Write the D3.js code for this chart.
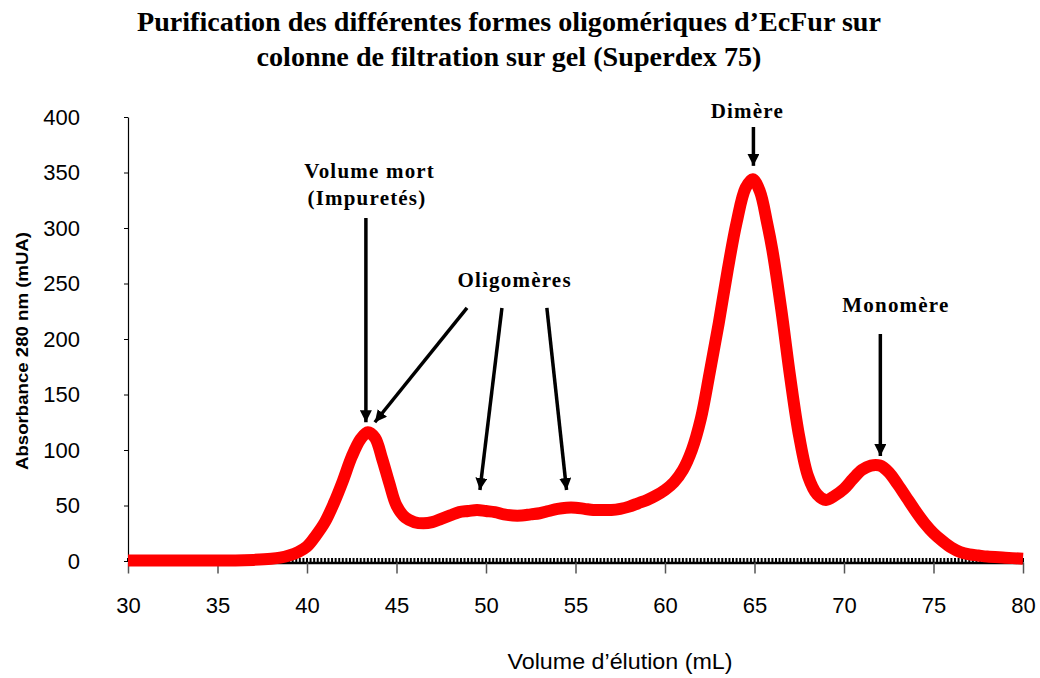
<!DOCTYPE html>
<html>
<head>
<meta charset="utf-8">
<script src="https://cdn.jsdelivr.net/npm/d3@7"></script>
<style>
  html, body { margin: 0; padding: 0; background: #fff; }
  svg { display: block; }
</style>
</head>
<body>
<svg id="chart" width="1040" height="678"></svg>
<script>
// ---- Data ----
const volumes = [30, 32, 34, 36, 37, 38, 38.5, 39, 39.5, 40, 40.5, 41, 41.5, 42, 42.5, 43, 43.4, 43.8, 44.2, 44.6, 45, 45.5, 46, 46.5, 47, 47.5, 48, 48.5, 49, 49.5, 50, 50.5, 51, 51.5, 52, 52.5, 53, 53.5, 54, 54.5, 55, 55.5, 56, 56.5, 57, 57.5, 58, 58.5, 59, 59.5, 60, 60.5, 61, 61.5, 62, 62.5, 63, 63.5, 64, 64.5, 64.9, 65.3, 65.7, 66, 66.5, 67, 67.5, 68, 68.5, 69, 69.5, 70, 70.5, 71, 71.5, 72, 72.5, 73, 73.5, 74, 74.5, 75, 75.5, 76, 76.5, 77, 77.5, 78, 79, 80];
const absorbance = [0.5, 0.5, 0.5, 0.5, 1, 2, 3, 5, 8, 13, 23, 35, 52, 72, 94, 110, 116, 111, 92, 70, 50, 39, 35, 34, 35, 38, 41, 44, 45, 46, 45, 44, 42, 41, 41, 42, 43, 45, 47, 48, 48, 47, 46, 46, 46, 47, 49, 52, 55, 59, 64, 71, 82, 100, 128, 170, 214, 262, 305, 336, 344, 333, 305, 280, 226, 165, 112, 76, 60, 55, 59, 65, 74, 82, 86, 86, 80, 69, 57, 45, 34, 25, 18, 12, 8, 6, 5, 4, 3, 2];

const xTicks = [30, 35, 40, 45, 50, 55, 60, 65, 70, 75, 80];
const yTicks = [0, 50, 100, 150, 200, 250, 300, 350, 400];

const titleLines = ["Purification des différentes formes oligomériques d’EcFur sur",
                    "colonne de filtration sur gel (Superdex 75)"];
const xTitle = "Volume d’élution (mL)";
const yTitle = "Absorbance 280 nm (mUA)";

// annotation labels [text, x(mL), y(mUA)]
const labelTexts = ["Volume mort", "(Impuretés)", "Oligomères", "Dimère", "Monomère"];
const labelX = [43.5, 43.35, 51.6, 64.6, 72.9];
const labelY = [345, 321, 247, 399, 224];
// arrows: from (x1,y1) to tip (x2,y2) in data units
const arrowX1 = [43.29, 48.94, 50.89, 53.4, 64.94, 72.03];
const arrowY1 = [309, 228, 228, 228, 391, 204.5];
const arrowX2 = [43.29, 43.79, 49.66, 54.5, 64.94, 72.03];
const arrowY2 = [125, 125, 64, 64, 356, 94.6];

// ---- Drawing ----
const svg = d3.select("#chart");
const x = d3.scaleLinear().domain([30, 80]).range([128, 1023]);
const y = d3.scaleLinear().domain([0, 400]).range([561, 117]);

// Title
svg.append("g").selectAll("text").data(titleLines).join("text")
  .attr("x", 509)
  .attr("y", (d, i) => 31 + i * 35)
  .attr("text-anchor", "middle")
  .attr("font-family", "'Liberation Serif', 'Times New Roman', serif")
  .attr("font-weight", "bold")
  .attr("font-size", 28)
  .attr("textLength", (d, i) => i === 0 ? 744 : 505)
  .attr("lengthAdjust", "spacingAndGlyphs")
  .attr("fill", "#000")
  .text(d => d);

// Minor ticks along x axis
const minor = d3.range(30, 80.001, 0.2);
svg.append("g").selectAll("line").data(minor).join("line")
  .attr("x1", d => x(d)).attr("x2", d => x(d))
  .attr("y1", y(0) - 3).attr("y2", y(0) + 1)
  .attr("stroke", "#000").attr("stroke-width", 2);

// X axis
const xAxis = svg.append("g")
  .attr("transform", `translate(0,${y(0) + 1.5})`)
  .call(d3.axisBottom(x).tickValues(xTicks).tickSize(11).tickPadding(24).tickSizeOuter(0));
xAxis.select(".domain").attr("stroke", "#000").attr("stroke-width", 2.5);
xAxis.selectAll(".tick line").attr("stroke", "#555").attr("stroke-width", 1.5);
xAxis.selectAll(".tick text")
  .attr("font-family", "'Liberation Sans', Arial, sans-serif")
  .attr("font-size", 22).attr("fill", "#000");

// Y axis
const yAxis = svg.append("g")
  .attr("transform", `translate(128,0)`)
  .call(d3.axisLeft(y).tickValues(yTicks).tickSize(4).tickPadding(44).tickSizeOuter(0));
yAxis.select(".domain").attr("stroke", "#000").attr("stroke-width", 1.2);
yAxis.selectAll(".tick line").attr("stroke", "#000");
yAxis.selectAll(".tick text")
  .attr("font-family", "'Liberation Sans', Arial, sans-serif")
  .attr("font-size", 22).attr("fill", "#000");

// Axis titles
svg.append("text")
  .attr("x", 620).attr("y", 669)
  .attr("text-anchor", "middle")
  .attr("font-family", "'Liberation Sans', Arial, sans-serif")
  .attr("font-size", 22)
  .attr("textLength", 225)
  .attr("lengthAdjust", "spacingAndGlyphs")
  .attr("fill", "#000")
  .text(xTitle);

svg.append("text")
  .attr("transform", "translate(28,351) rotate(-90)")
  .attr("text-anchor", "middle")
  .attr("font-family", "'Liberation Sans', Arial, sans-serif")
  .attr("font-weight", "bold")
  .attr("font-size", 16)
  .attr("textLength", 238)
  .attr("lengthAdjust", "spacingAndGlyphs")
  .attr("fill", "#000")
  .text(yTitle);

// Curve
const data = volumes.map((v, i) => ({ v, a: absorbance[i] }));
const line = d3.line().x(d => x(d.v)).y(d => y(d.a)).curve(d3.curveCatmullRom.alpha(0.5));
svg.append("path")
  .datum(data)
  .attr("d", line)
  .attr("fill", "none")
  .attr("stroke", "#ff0000")
  .attr("stroke-width", 12)
  .attr("stroke-linejoin", "round");

// Arrow marker
svg.append("defs").append("marker")
  .attr("id", "ah")
  .attr("viewBox", "0 0 12 12")
  .attr("refX", 12).attr("refY", 6)
  .attr("markerWidth", 12).attr("markerHeight", 12)
  .attr("markerUnits", "userSpaceOnUse")
  .attr("orient", "auto")
  .append("path")
  .attr("d", "M0,0 L12,6 L0,12 Z")
  .attr("fill", "#000");

svg.append("g").selectAll("line").data(arrowX1).join("line")
  .attr("x1", (d, i) => x(arrowX1[i]))
  .attr("y1", (d, i) => y(arrowY1[i]))
  .attr("x2", (d, i) => x(arrowX2[i]))
  .attr("y2", (d, i) => y(arrowY2[i]))
  .attr("stroke", "#000")
  .attr("stroke-width", 3.5)
  .attr("marker-end", "url(#ah)");

// Labels
svg.append("g").selectAll("text").data(labelTexts).join("text")
  .attr("x", (d, i) => x(labelX[i]))
  .attr("y", (d, i) => y(labelY[i]))
  .attr("text-anchor", "middle")
  .attr("font-family", "'Liberation Serif', 'Times New Roman', serif")
  .attr("font-weight", "bold")
  .attr("font-size", 21)
  .attr("letter-spacing", 1.2)
  .attr("fill", "#000")
  .text(d => d);
</script>
</body>
</html>
